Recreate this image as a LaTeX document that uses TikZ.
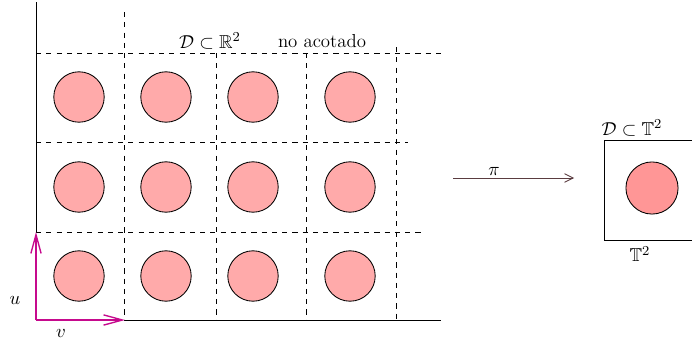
\documentclass[tikz,border=0pt]{standalone}
\usepackage{amssymb}
\definecolor{disco}{HTML}{FFAAAA}
\definecolor{discot}{HTML}{FF9696}
\definecolor{flecha}{HTML}{5A3C40}
\tikzset{
	celda/.style={dashed},
	disc/.style={circle, draw, fill=disco, minimum size=29.5pt, inner sep=0pt},
	base/.style={magenta!80!blue, thick, -{Straight Barb[length=11pt,width=6pt]}},
}
\usetikzlibrary{arrows.meta}
\begin{document}
\begin{tikzpicture}[x=0.585pt, y=-0.585pt, line width=0.5pt,
		every node/.style={font=\fontsize{11pt}{13pt}\selectfont}]
			\useasboundingbox (0,0) rectangle (692,344);
			% ejes y reticula
			\coordinate (o) at (36,320);
			\coordinate (eu) at (36,232);
			\coordinate (ev) at (125,320);
			\draw (36,2) -- (eu);
			\draw (ev) -- (441,320);
			\draw[celda] (36,53) -- (445,53);
			\draw[celda] (36,142) -- (408,142);
			\draw[celda] (36,232) -- (425,232);
			\draw[celda] (124,12) -- (124,320);
			\draw[celda] (216,53) -- (216,320);
			\draw[celda] (306,53) -- (306,320);
			\draw[celda] (396,47) -- (396,320);
			% discos
			\foreach \x in {79,166,253,350}
				\foreach \y in {97,187,276}
					\node[disc] at (\x,\y) {};
			% base del reticulo
			\draw[base] (o) -- (eu);
			\draw[base] (o) -- (ev);
			\node (u) at (15,300) {$u$};
			\node (v) at (61,333) {$v$};
			\node (dr) at (210,41) {$\mathcal{D}\subset\mathbb{R}^2$};
			\node (na) at (322,41) {no acotado};
			% proyeccion al toro
			\coordinate (pa) at (453,178);
			\coordinate (pb) at (574,178);
			\draw[flecha, -{Straight Barb[length=5pt,width=5pt]}] (pa) -- node[above, black, pos=0.34, yshift=-2pt] {$\pi$} (pb);
			\draw (692,140) -- (604,140) -- (604,240) -- (692,240);
			\node[disc, fill=discot, minimum size=30.5pt] (dt) at (652,188) {};
			\node (dtt) at (632,128) {$\mathcal{D}\subset\mathbb{T}^2$};
			\node (tt) at (640,254) {$\mathbb{T}^2$};
		\end{tikzpicture}
\end{document}
